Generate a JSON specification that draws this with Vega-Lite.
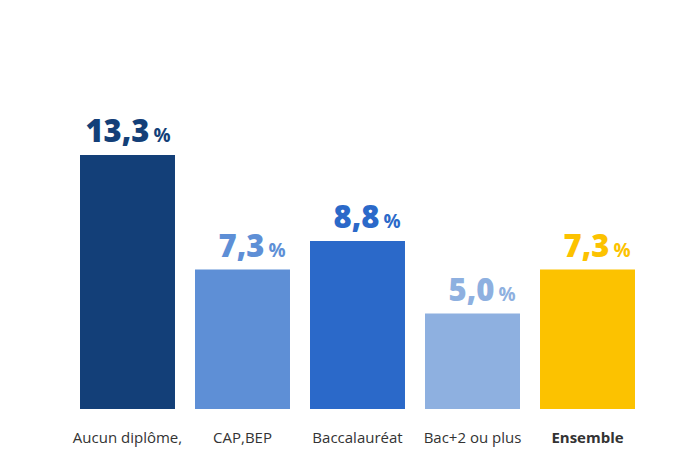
{
  "$schema": "https://vega.github.io/schema/vega-lite/v6.json",
  "width": 575,
  "height": 309,
  "autosize": {"type": "none"},
  "padding": {"left": 70, "top": 100, "right": 55, "bottom": 41},
  "background": "white",
  "config": {"view": {"stroke": null}, "font": "Open Sans"},
  "data": {
    "values": [
      {"diplome": "Aucun diplôme,", "taux": 13.3, "label": "13,3", "couleur": "#133f78"},
      {"diplome": "CAP,BEP", "taux": 7.3, "label": "7,3", "couleur": "#5e8fd6"},
      {"diplome": "Baccalauréat", "taux": 8.8, "label": "8,8", "couleur": "#2b69c9"},
      {"diplome": "Bac+2 ou plus", "taux": 5.0, "label": "5,0", "couleur": "#8eb0e0"},
      {"diplome": "Ensemble", "taux": 7.3, "label": "7,3", "couleur": "#fcc200"}
    ]
  },
  "encoding": {
    "x": {
      "field": "diplome",
      "type": "nominal",
      "sort": null,
      "scale": {"paddingInner": 0.174, "paddingOuter": 0.087},
      "axis": {
        "title": null,
        "domain": false,
        "ticks": false,
        "labelAngle": 0,
        "labelFont": "Open Sans",
        "labelFontSize": 15,
        "labelColor": "#333333",
        "labelPadding": 21,
        "labelFontWeight": {"condition": {"test": "datum.value == 'Ensemble'", "value": "bold"}, "value": "normal"}
      }
    },
    "y": {
      "field": "taux",
      "type": "quantitative",
      "scale": {"domain": [0, 16.18], "nice": false},
      "axis": null
    },
    "color": {"field": "couleur", "type": "nominal", "scale": null, "legend": null}
  },
  "layer": [
    {"mark": {"type": "bar"}},
    {
      "mark": {"type": "text", "align": "right", "baseline": "alphabetic", "dx": 22, "dy": -13, "font": "Open Sans", "fontWeight": 800, "fontSize": 31},
      "encoding": {"text": {"field": "label"}}
    },
    {
      "mark": {"type": "text", "align": "left", "baseline": "alphabetic", "dx": 26, "dy": -13, "font": "Open Sans", "fontWeight": "bold", "fontSize": 19},
      "encoding": {"text": {"value": "%"}}
    }
  ]
}
